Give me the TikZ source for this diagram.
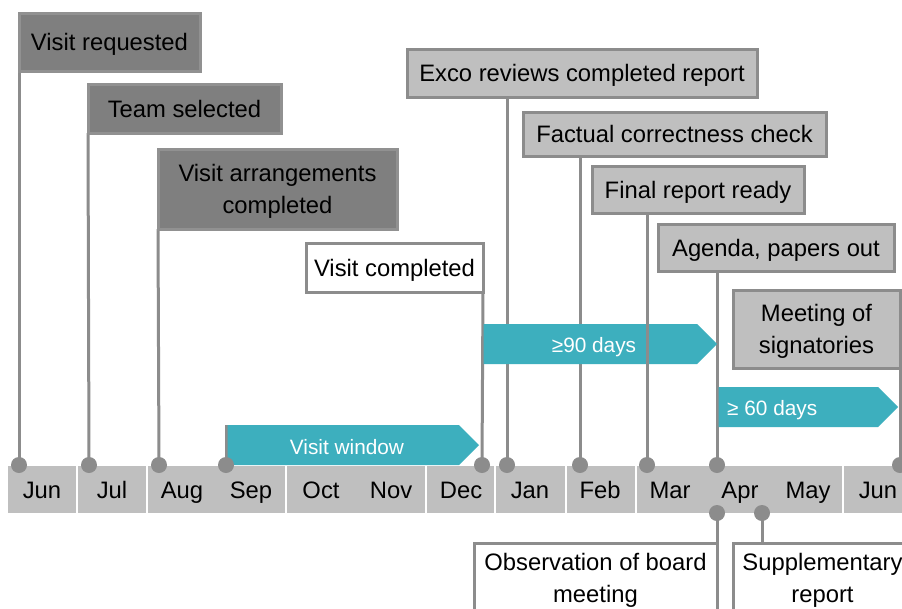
\documentclass[tikz,border=0pt]{standalone}
\usepackage{fontspec}
\setmainfont{Liberation Sans}
\definecolor{linegray}{HTML}{8C8C8C}
\definecolor{darkbox}{HTML}{7F7F7F}
\definecolor{darkedge}{HTML}{919191}
\definecolor{lightbox}{HTML}{BFBFBF}
\definecolor{spanteal}{HTML}{3DAFBE}
\pgfdeclarelayer{bg}
\pgfsetlayers{bg,main}
\begin{document}
\begin{tikzpicture}[x=1pt,y=-1pt,
  evt/.style={draw=linegray, line width=3pt, align=center, inner sep=0pt, outer sep=0pt,
    text depth=0pt, font=\fontsize{23.8}{32}\selectfont, text=black},
  darkevt/.style={evt, fill=darkbox, draw=darkedge},
  lightevt/.style={evt, fill=lightbox},
  plainevt/.style={evt, fill=white},
  conn/.style={draw=linegray, line width=3pt},
  dot/.style={circle, fill=linegray, minimum size=16pt, inner sep=0pt, outer sep=0pt},
  month/.style={font=\fontsize{23.8}{28}\selectfont, text=black, inner sep=0pt, anchor=base},
  span/.style={fill=spanteal},
  spanlabel/.style={font=\fontsize{20.8}{24}\selectfont, text=white, inner sep=0pt, anchor=base}]
\clip (0,0) rectangle (902,608);

% month labels
\foreach \m/\x in {Jun/42,Jul/112,Aug/182,Sep/251,Oct/321,Nov/391,Dec/461,Jan/530,Feb/600,Mar/670,Apr/740,May/808}
  \node[month] (m\m) at (\x,498.5) {\m};
\node[month] (mJunB) at (878,498.5) {Jun};

% milestone dots
\node[dot] (dJun) at (19,465) {};
\node[dot] (dJul) at (89,465) {};
\node[dot] (dAug) at (159,465) {};
\node[dot] (dSep) at (226,465) {};
\node[dot] (dDec) at (482,465) {};
\node[dot] (dJan) at (507,465) {};
\node[dot] (dFeb) at (580,465) {};
\node[dot] (dMar) at (647,465) {};
\node[dot] (dApr) at (717,465) {};
\node[dot] (dJunB) at (900,465) {};
\node[dot] (bApr) at (717,513) {};
\node[dot] (bSupp) at (762,513) {};

% milestone boxes
\node[darkevt, minimum width=181pt, minimum height=58pt] (vreq) at (109.5,42) {Visit requested};
\node[darkevt, minimum width=193pt, minimum height=49pt] (team) at (184.5,108.5) {Team selected};
\node[darkevt, minimum width=239pt, minimum height=80pt] (arr) at (277.5,189) {Visit arrangements\\completed};
\node[plainevt, minimum width=177pt, minimum height=49pt] (vcomp) at (394.5,267.5) {Visit completed};
\node[lightevt, minimum width=350pt, minimum height=48pt] (exco) at (582,73) {Exco reviews completed report};
\node[lightevt, minimum width=303pt, minimum height=44pt] (fact) at (674.5,134) {Factual correctness check};
\node[lightevt, minimum width=212pt, minimum height=47pt] (final) at (698,189.5) {Final report ready};
\node[lightevt, minimum width=236pt, minimum height=47pt] (agenda) at (776,247.5) {Agenda, papers out};
\node[lightevt, minimum width=167pt, minimum height=78pt] (meet) at (816.5,329) {Meeting of\\signatories};
\node[plainevt, minimum width=243pt, minimum height=69pt] (obs) at (595.5,577.5) {Observation of board\\meeting};
\node[plainevt, minimum width=179pt, minimum height=69pt] (supp) at (822.5,577.5) {Supplementary\\report};

% span labels
\node[spanlabel] (lwin) at (347,454) {Visit window};
\node[spanlabel] (l90) at (594,352) {≥90 days};
\node[spanlabel, anchor=base west] (l60) at (727,415) {≥ 60 days};

\begin{pgfonlayer}{bg}
  \fill[white] (0,0) rectangle (902,608);
  % month band with white dividers
  \fill[lightbox] (8,466) rectangle (902,513);
  \foreach \s in {77,147,286,426,495,566,636,843}
    \draw[white, line width=2pt] (\s,466) -- (\s,513);
  % leader lines from the dots to their boxes
  \coordinate (vwtl) at (226,425);
  \draw[conn] (dJun.center) -- (vreq.south west);
  \draw[conn] (dJul.center) -- (team.south west);
  \draw[conn] (dAug.center) -- (arr.south west);
  \draw[conn] (dSep.center) -- (vwtl);
  \draw[conn] (dDec.center) -- (vcomp.south east);
  \draw[conn] (dJan.center) -- (dJan.center |- exco.south);
  \draw[conn] (dFeb.center) -- (dFeb.center |- fact.south);
  \draw[conn] (dApr.center) -- (dApr.center |- agenda.south);
  \draw[conn] (dJunB.center) -- (meet.south east);
  \draw[conn] (bApr.center) -- (obs.north east);
  \draw[conn] (bSupp.center) -- (bSupp.center |- supp.north);
  % time spans
  \fill[span] (227.5,425) -- (459,425) -- (479,445) -- (459,465) -- (227.5,465) -- cycle;
  \fill[span] (483.5,324) -- (697,324) -- (717,344) -- (697,364) -- (483.5,364) -- cycle;
  \fill[span] (718.5,387) -- (878,387) -- (898,407) -- (878,427) -- (718.5,427) -- cycle;
  % the March leader runs across the span
  \draw[conn] (dMar.center) -- (dMar.center |- final.south);
\end{pgfonlayer}
\end{tikzpicture}
\end{document}
